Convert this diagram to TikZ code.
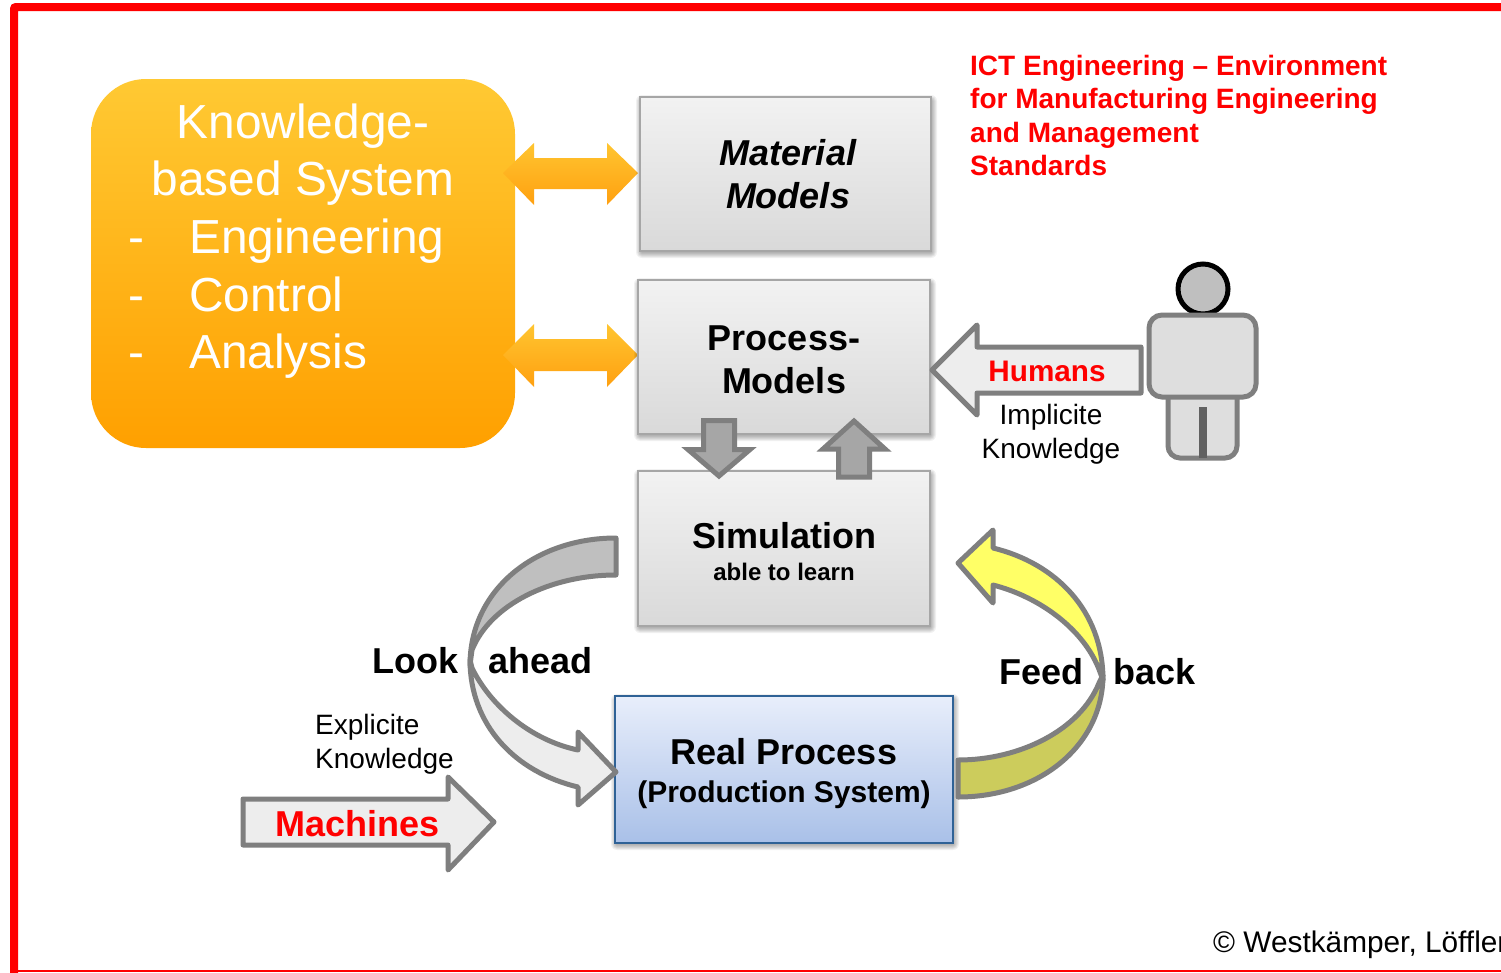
\documentclass[tikz,border=0pt]{standalone}
\usepackage{fontspec}
\setmainfont{Liberation Sans}
\definecolor{arrowline}{HTML}{7F7F7F}
\definecolor{labelred}{HTML}{FF0000}
\definecolor{orangetop}{HTML}{FFC933}
\definecolor{orangebot}{HTML}{FFA000}
\definecolor{dbltop}{HTML}{FFC530}
\definecolor{dblbot}{HTML}{FFA010}
\definecolor{grytop}{HTML}{F2F2F2}
\definecolor{grybot}{HTML}{D9D9D9}
\definecolor{blutop}{HTML}{E8EEFB}
\definecolor{blubot}{HTML}{A9C0E8}
\definecolor{bluline}{HTML}{2F6296}
\definecolor{yelfront}{HTML}{FFFF66}
\definecolor{yelback}{HTML}{CCCC5C}
\definecolor{grylight}{HTML}{EDEDED}
\newcommand{\fs}[2]{\fontsize{#1}{#2}\selectfont}
\newcommand{\softshadow}[4]{%
  \foreach \r in {6,5,4,3,2,1}{\fill[black,opacity=.055,rounded corners=\r pt] (#1-\r+2,#2+4-\r) rectangle (#3+\r,#4+\r+1);}}
\tikzset{
  modelbox/.style={rectangle,draw=black!35,line width=2.5pt,top color=grytop,bottom color=grybot,
    align=center,inner sep=0pt,outer sep=0pt,anchor=north west,text=black},
  realbox/.style={modelbox,draw=bluline,top color=blutop,bottom color=blubot},
  txt/.style={inner sep=0pt,anchor=base west,text=black},
  ctxt/.style={inner sep=0pt,anchor=base,text=black},
  blockarrow/.style={draw=arrowline,line width=5pt,line join=round},
  orangearrow/.style={top color=dbltop,bottom color=dblbot,draw=none},
}
\begin{document}
\begin{tikzpicture}[x=1pt,y=-1pt]
\useasboundingbox (0,0) rectangle (1501,972);
\fill[white] (0,0) rectangle (1501,972);
% frame
\draw[labelred,line width=8pt,rounded corners=2pt] (14,980) -- (14,7) -- (1510,7);
\draw[labelred,line width=1.5pt] (18,971) -- (1501,971);
% knowledge box
\path[top color=orangetop,bottom color=orangebot,rounded corners=55pt] (91,79) rectangle (515,448);
\node[ctxt,text=white] (kb1) at (303,138) {\fs{47.8}{57}Knowledge-};
\node[ctxt,text=white] (kb2) at (303,195) {\fs{47.8}{57}based System};
\node[txt,text=white] (d1) at (128,253) {\fs{47.8}{57}-};
\node[txt,text=white] (kb3) at (189,253) {\fs{47.8}{57}Engineering};
\node[txt,text=white] (d2) at (128,311) {\fs{47.8}{57}-};
\node[txt,text=white] (kb4) at (189,311) {\fs{47.8}{57}Control};
\node[txt,text=white] (d3) at (128,368) {\fs{47.8}{57}-};
\node[txt,text=white] (kb5) at (189,368) {\fs{47.8}{57}Analysis};
% double arrows
\path[orangearrow] (503,173) -- (534,143) -- (534,158) -- (607,158) -- (607,143) -- (638,173) -- (607,205) -- (607,189) -- (534,189) -- (534,205) -- cycle;
\path[orangearrow] (503,355) -- (534,324) -- (534,339) -- (607,339) -- (607,324) -- (638,355) -- (607,387) -- (607,371) -- (534,371) -- (534,387) -- cycle;
% shadows
\softshadow{640}{97}{931}{251}
\softshadow{638}{280}{930}{434}
\softshadow{638}{471}{930}{626}
\softshadow{615}{696}{953}{843}
% boxes
\node[modelbox,minimum width=291pt,minimum height=154pt,font=\fs{36}{43}\bfseries\itshape] (material) at (640,97) {\hspace*{5pt}Material\\\hspace*{5pt}Models};
\node[modelbox,minimum width=292pt,minimum height=154pt,font=\fs{36}{43}\bfseries] (process) at (638,280) {\rule{0pt}{30pt}Process-\\Models};
\node[modelbox,minimum width=292pt,minimum height=155pt,font=\fs{36}{36}\bfseries] (sim) at (638,471) {\rule{0pt}{32pt}Simulation\\[-4pt]{\fs{24}{30}able to learn}};
\node[realbox,minimum width=338pt,minimum height=147pt,font=\fs{36}{38}\bfseries] (real) at (615,696) {\rule{0pt}{34pt}Real Process\\{\fs{30}{36}(Production System)}};
% small arrows between process and simulation
\path[blockarrow,fill=black!35,line join=miter] (703.5,420.5) -- (734.5,420.5) -- (734.5,449.5) -- (750,449.5) -- (719,476) -- (688,449.5) -- (703.5,449.5) -- cycle;
\path[blockarrow,fill=black!35,line join=miter] (854,421) -- (885,449) -- (869.5,449) -- (869.5,477) -- (838.5,477) -- (838.5,449) -- (823,449) -- cycle;
% look ahead arrow
\path[blockarrow,fill=black!25] (616,538) .. controls (535,538) and (470,590) .. (470,665) -- (472,650) .. controls (490,605) and (550,575) .. (616,575) -- cycle;
\path[blockarrow,fill=grylight] (470,660) .. controls (470,725) and (515,772) .. (578,787) -- (578,805) -- (616,772) -- (578,732) -- (578,750) .. controls (530,740) and (490,705) .. (472,668) -- cycle;
% feed back arrow
\path[blockarrow,fill=yelback] (958,797) .. controls (1040,797) and (1103,745) .. (1103,675) -- (1099,683) .. controls (1080,730) and (1020,760) .. (958,760) -- cycle;
\path[blockarrow,fill=yelfront] (958,563) -- (993,530) -- (993,548) .. controls (1055,563) and (1103,610) .. (1103,680) -- (1100,672) .. controls (1085,630) and (1040,597) .. (993,585) -- (993,603) -- cycle;
% humans arrow
\path[blockarrow,fill=grylight] (932,370) -- (977,325) -- (977,347) -- (1141,347) -- (1141,393) -- (977,393) -- (977,415) -- cycle;
\node[ctxt,text=labelred] (humans) at (1047,381) {\fs{29.7}{34}\bfseries Humans};
\node[ctxt] (impl) at (1051,424) {\fs{28}{34}Implicite};
\node[ctxt] (impk) at (1051,458) {\fs{28}{34}Knowledge};
% person
\draw[black,line width=5pt,fill=black!25] (1203,289) circle (25pt);
\draw[arrowline,line width=5pt,fill=black!13,rounded corners=12pt] (1168,380) -- (1168,458) -- (1237,458) -- (1237,380) -- cycle;
\draw[black!62,line width=8pt] (1203,407) -- (1203,458);
\draw[arrowline,line width=5pt,fill=black!13,rounded corners=13pt] (1149,315) rectangle (1256,397);
% machines arrow
\path[blockarrow,fill=grylight] (243,799) -- (448,799) -- (448,777) -- (494,822) -- (448,870) -- (448,845) -- (243,845) -- cycle;
\node[ctxt,text=labelred] (machines) at (357.5,836) {\fs{36}{40}\bfseries Machines};
\node[txt] (expl) at (315,734) {\fs{28}{34}Explicite};
\node[txt] (expk) at (315,768) {\fs{28}{34}Knowledge};
% labels
\node[txt] (look) at (372,673) {\fs{36}{40}\bfseries Look};
\node[txt] (ahead) at (488,673) {\fs{36}{40}\bfseries ahead};
\node[txt] (feed) at (999,684) {\fs{36}{40}\bfseries Feed};
\node[txt] (back) at (1113,684) {\fs{36}{40}\bfseries back};
\node[txt,text=labelred] (t1) at (970,75) {\fs{28}{33}\bfseries ICT Engineering – Environment};
\node[txt,text=labelred] (t2) at (970,108) {\fs{28}{33}\bfseries for Manufacturing Engineering};
\node[txt,text=labelred] (t3) at (970,142) {\fs{28}{33}\bfseries and Management};
\node[txt,text=labelred] (t4) at (970,175) {\fs{28}{33}\bfseries Standards};
\node[txt] (copy) at (1213,952) {\fs{29.8}{33}© Westkämper, Löffler};
\end{tikzpicture}
\end{document}
